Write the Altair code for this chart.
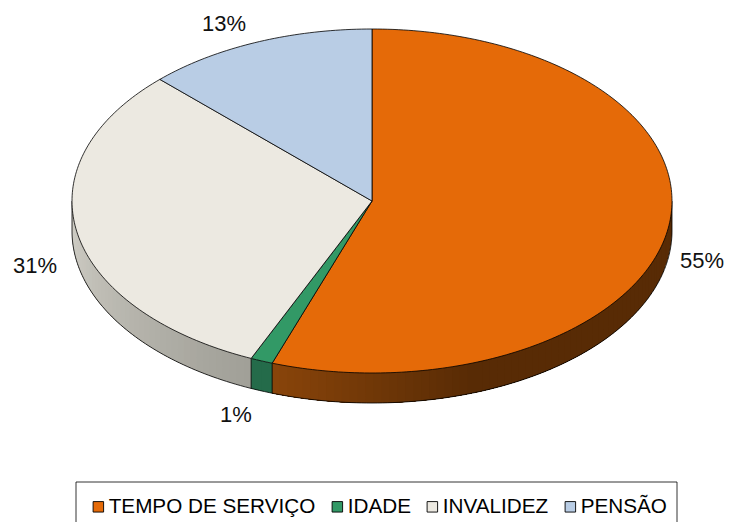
import math
import altair as alt
import pandas as pd

# ---- chart values ----
categories = ["TEMPO DE SERVIÇO", "IDADE", "INVALIDEZ", "PENSÃO"]
shares = [55.4, 1.2, 30.9, 12.5]
pct_labels = ["55%", "1%", "31%", "13%"]
top_colors = ["#E56A08", "#329966", "#ECE9E1", "#B9CDE5"]

# ---- drawing geometry (page pixels minus the 8px margin) ----
CX, CY, RX, RY, DEPTH = 364, 193, 300, 172, 30
label_x = [694, 228, 27, 216]
label_y = [253, 407, 258, 16]
BOX = [68, 474, 669, 560]
W, H = 717, 514


def pt(theta, drop=0):
    a = math.radians(theta)
    return [CX + RX * math.sin(a), CY - RY * math.cos(a) + drop]


def mix(c1, c2, t):
    return "#%02x%02x%02x" % tuple(round(a + (b - a) * t) for a, b in zip(c1, c2))


def side_color(i, theta):
    if i == 0:  # orange side: dark over the right, lighter towards its left end
        t = max(0.0, (theta - 160) / 40)
        return mix((88, 43, 5), (139, 69, 10), t)
    if i == 1:
        return "#246B4A"
    if i == 2:
        t = (theta - 203) / 67
        return mix((160, 159, 151), (210, 208, 200), t)
    return "#8A9AB0"


def feature(kind, coords, name=None, color=None):
    geom = (
        {"type": "LineString", "coordinates": coords}
        if kind == "line"
        else {"type": "Polygon", "coordinates": [coords + [coords[0]]]}
    )
    return {"type": "Feature", "geometry": geom, "properties": {"name": name, "color": color}}


bounds = [0]
for s in shares:
    bounds.append(bounds[-1] + s * 3.6)
bounds[-1] = 360

tops, strips, edges = [], [], []
for i, name in enumerate(categories):
    a0, a1 = bounds[i], bounds[i + 1]
    n = max(4, int(a1 - a0))
    arc = [pt(a0 + (a1 - a0) * k / n) for k in range(n + 1)]
    tops.append(feature("poly", [[CX, CY]] + arc, name=name))
    # side wall: only the front half of the disc shows
    lo, hi = max(a0, 90), min(a1, 270)
    if lo < hi:
        m = max(1, int((hi - lo) / 1.5))
        for k in range(m):
            t0 = lo + (hi - lo) * k / m
            # each strip runs to the end of its slice; later strips paint over it,
            # so no seams appear between neighbours
            strips.append(
                feature("poly", [pt(t0)] + [pt(t0 + (hi - t0) * j / 8) for j in range(1, 9)]
                        + [pt(t0 + (hi - t0) * j / 8, DEPTH) for j in range(8, 0, -1)] + [pt(t0, DEPTH)],
                        color=side_color(i, t0))
            )

# outline of the wall: lower rim and vertical edges
edges.append(feature("line", [pt(90 + k, DEPTH) for k in range(181)]))
for theta in [90, 270] + [b for b in bounds[1:-1] if 90 < b < 270]:
    edges.append(feature("line", [pt(theta), pt(theta, DEPTH)]))
x0, y0, x1, y1 = BOX
edges.append(feature("line", [[x0, y1], [x0, y0], [x1, y0], [x1, y1]]))

proj = alt.Projection(type="identity", scale=1, translate=[0, 0])

wall = (
    alt.Chart(alt.Data(values=strips))
    .mark_geoshape(strokeWidth=0)
    .encode(fill=alt.Fill("properties.color:N", scale=None))
    .project(**proj.to_dict())
)
rim = (
    alt.Chart(alt.Data(values=edges))
    .mark_geoshape(filled=False, stroke="black", strokeWidth=0.8)
    .project(**proj.to_dict())
)
top = (
    alt.Chart(alt.Data(values=tops))
    .mark_geoshape(stroke="black", strokeWidth=0.8)
    .encode(
        fill=alt.Fill(
            "properties.name:N",
            scale=alt.Scale(domain=categories, range=top_colors),
            sort=None,
            legend=alt.Legend(
                title=None,
                orient="none",
                legendX=80,
                legendY=488,
                direction="horizontal",
                columns=4,
                symbolType="square",
                symbolSize=110,
                symbolStrokeColor="black",
                symbolStrokeWidth=0.9,
                labelFont="Liberation Sans",
                labelFontSize=20.7,
                labelColor="black",
                labelLimit=400,
                labelOffset=0,
                columnPadding=11,
                padding=0,
            ),
        )
    )
    .project(**proj.to_dict())
)
labels = (
    alt.Chart(pd.DataFrame({"label": pct_labels, "x": label_x, "y": label_y}))
    .mark_text(font="Liberation Sans", fontSize=22, color="#111111")
    .encode(longitude="x:Q", latitude="y:Q", text="label:N")
    .project(**proj.to_dict())
)

chart = (
    alt.layer(wall, rim, top, labels)
    .resolve_scale(fill="independent")
    .properties(width=W, height=H, padding=0, autosize=alt.AutoSizeParams(type="none"))
    .configure_view(stroke=None)
)
chart.save("out.html", embed_options={"renderer": "svg", "actions": False})
